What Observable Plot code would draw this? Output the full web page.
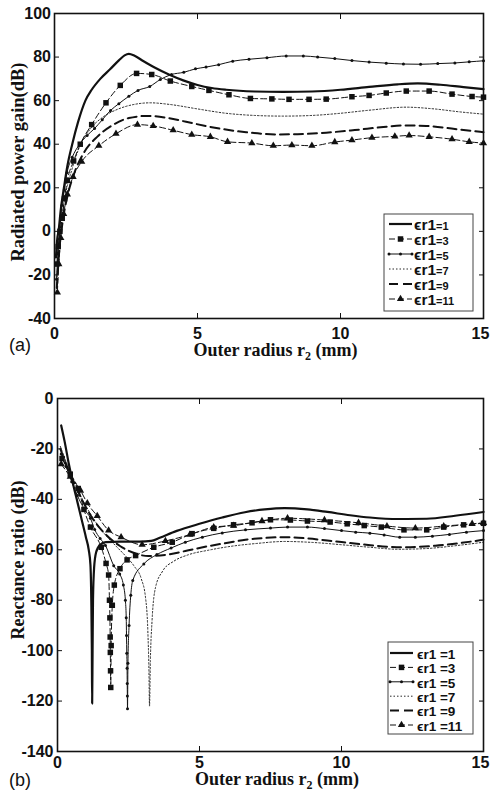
<!DOCTYPE html>
<html>
<head>
<meta charset="utf-8">
<script src="https://cdn.jsdelivr.net/npm/d3@7"></script>
<script src="https://cdn.jsdelivr.net/npm/@observablehq/plot@0.6"></script>
<style>
  body { margin: 0; background: #fff; }
  #wrap { width: 490px; }
  #wrap svg { display: block; }
</style>
</head>
<body>
<div id="wrap"></div>
<script>
// ---- data ---------------------------------------------------------------
const epsLabels = ["1", "3", "5", "7", "9", "11"];
const radiusTicks = [0, 5, 10, 15];
const gainTicks = [-40, -20, 0, 20, 40, 60, 80, 100];
const ratioTicks = [0, -20, -40, -60, -80, -100, -120, -140];

// (a) radiated power gain (dB) against outer radius r2 (mm)
const gainEr1 = [[0.05,-12],[0.1,-3],[0.14,0],[0.22,10],[0.33,20],[0.45,30],[0.62,40],[0.82,50],[1.08,60],[1.3,65],[1.6,70],[1.95,74.5],[2.25,78.5],[2.45,80.8],[2.6,81.5],[2.8,80.6],[3.1,78.2],[3.5,75.2],[4.0,72],[4.5,69.3],[5.0,67.2],[5.5,65.8],[6.0,65],[7.0,64.2],[8.0,64],[9.0,64.2],[10.0,65],[11.0,66.3],[12.0,67.5],[12.7,67.9],[13.5,67.3],[14.3,66.2],[15.0,65.3]];
const gainEr3 = [[0.08,-15],[0.13,-7],[0.19,0],[0.27,6],[0.35,15],[0.45,23.4],[0.67,32.3],[0.9,40],[1.3,49],[1.8,59],[2.3,67],[2.87,72.5],[3.4,72],[4.05,69],[4.8,66.5],[5.4,64.7],[6.1,62.7],[6.85,61],[7.6,60.8],[8.2,60.6],[8.9,60.6],[9.5,60.7],[10.4,61.8],[11.0,62.4],[11.6,63.5],[12.3,64.4],[13.1,64.4],[13.9,63],[14.6,61.9],[15.0,61.6]];
const gainEr5 = [[0.07,-22],[0.12,-10],[0.18,0],[0.26,12],[0.34,19],[0.44,27],[0.62,34],[0.88,40],[1.14,44],[1.4,47.2],[1.67,51.2],[1.96,55.5],[2.25,58.6],[2.6,62],[2.92,64.7],[3.33,66.5],[3.7,69.7],[4.09,72],[4.52,73],[4.93,74.6],[5.3,75.4],[5.74,76.5],[6.23,78.1],[6.8,79],[7.43,79.7],[8.1,80.5],[8.7,80.5],[9.2,80],[9.8,79.3],[10.4,78.4],[11.0,77.7],[11.6,77.2],[12.2,76.8],[12.8,76.7],[13.4,77],[14.0,77.3],[14.5,77.8],[15.0,78.3]];
const gainEr7 = [[0.08,-24],[0.15,-8],[0.25,6],[0.4,18],[0.6,28],[0.85,38],[1.25,47],[1.7,52.5],[2.2,56],[2.8,58.3],[3.35,59],[4.0,58.3],[5.0,56.2],[6.0,54.2],[7.0,53.2],[8.0,52.9],[9.0,53.2],[10.0,54.2],[11.0,55.6],[12.3,57],[13.2,56.3],[14.2,54.8],[15.0,53.8]];
const gainEr9 = [[0.08,-26],[0.16,-10],[0.28,4],[0.45,16],[0.7,27],[1.0,35.5],[1.5,43.5],[2.0,48.5],[2.6,52],[3.25,53],[3.9,52.2],[4.6,50.3],[5.5,47.8],[6.7,45.5],[7.8,44.5],[8.5,44.6],[9.5,45.3],[10.5,46.5],[11.5,47.9],[12.2,48.6],[13.0,48.4],[14.0,47],[15.0,45.5]];
const gainEr11 = [[0.1,-28],[0.15,-15],[0.22,-3],[0.32,8],[0.45,17],[0.65,25],[0.95,32],[1.55,39.3],[2.15,44.8],[2.9,49],[3.45,48.4],[4.15,46.4],[4.8,44.4],[5.45,43.4],[6.05,41.1],[6.9,40.5],[7.65,39.3],[8.3,39.6],[9.0,39.3],[9.8,41],[10.4,41.9],[11.1,43],[11.9,43.6],[12.4,44],[13.1,43.4],[13.9,42.3],[14.5,41.1],[15.0,40.5]];

// (b) reactance ratio (dB) against outer radius r2 (mm)
const ratioEr1 = [[0.13,-10.7],[0.25,-17],[0.4,-26],[0.55,-34],[0.7,-41],[0.85,-48],[1.0,-55],[1.1,-60],[1.16,-66],[1.19,-80],[1.21,-100],[1.22,-121],[1.235,-100],[1.25,-80],[1.29,-67],[1.36,-61],[1.5,-58],[1.7,-57],[2.2,-56.8],[2.9,-56.8],[3.3,-56.5],[3.6,-55.2],[4.2,-52.5],[5.0,-49.7],[5.8,-47.2],[6.6,-45.1],[7.3,-44],[8.0,-43.5],[8.8,-44],[9.5,-45],[10.3,-46.3],[11.0,-47.2],[12.0,-47.8],[13.0,-47.7],[14.0,-46.5],[15.0,-45]];
const ratioEr3 = [[0.16,-23.8],[0.45,-30],[0.73,-35.7],[0.93,-44],[1.16,-51],[1.54,-59],[1.71,-65.4],[1.8,-70],[1.83,-80],[1.845,-87],[1.855,-94.6],[1.86,-100.7],[1.868,-108],[1.875,-114.6],[1.89,-98],[1.93,-82],[2.0,-74],[2.2,-67.5],[2.45,-64],[2.75,-62.3],[3.39,-59],[4.04,-57],[4.74,-53.6],[5.5,-51.5],[6.2,-50.1],[6.85,-49.3],[7.5,-48.1],[8.2,-48.2],[8.8,-48.6],[9.6,-49],[10.2,-49.7],[10.8,-50.4],[11.4,-51],[12.2,-52.1],[13.0,-52.1],[13.6,-51],[14.3,-50.1],[15.0,-49.5]];
const ratioEr5 = [[0.13,-22],[0.3,-27],[0.5,-33],[0.7,-38.5],[0.95,-44],[1.16,-47.5],[1.31,-52],[1.5,-55.5],[1.69,-58.3],[1.98,-66.3],[2.19,-69.6],[2.32,-74],[2.39,-80],[2.42,-87],[2.43,-94],[2.44,-101],[2.45,-107],[2.455,-113],[2.46,-118],[2.465,-123],[2.48,-105],[2.52,-90],[2.58,-78],[2.65,-72.2],[3.04,-65.6],[3.5,-61.9],[4.0,-59.3],[4.5,-57],[5.1,-55],[5.8,-53.3],[6.62,-52.1],[7.5,-51.4],[8.1,-51],[8.8,-51],[9.4,-51.6],[10.0,-52.4],[10.5,-53],[11.0,-53.4],[11.5,-54.1],[12.05,-55],[12.6,-55],[13.2,-54.6],[13.8,-53.9],[14.4,-53],[15.0,-52.4]];
const ratioEr7 = [[0.1,-19],[0.3,-25],[0.6,-33],[0.9,-40.5],[1.2,-46.5],[1.5,-51.5],[1.8,-55.5],[2.1,-59],[2.4,-62.5],[2.7,-66.5],[2.95,-71.5],[3.1,-79],[3.18,-92],[3.22,-108],[3.24,-122],[3.27,-104],[3.33,-88],[3.45,-75],[3.7,-68.5],[4.1,-64.5],[4.6,-62],[5.3,-60.2],[6.0,-58.8],[7.0,-57.5],[8.0,-56.7],[9.0,-57.1],[10.0,-58],[11.0,-59],[12.0,-59.8],[13.0,-59.5],[14.0,-58.4],[15.0,-57]];
const ratioEr9 = [[0.1,-20],[0.3,-26],[0.6,-34],[0.9,-41],[1.2,-47],[1.5,-51.5],[1.8,-55],[2.2,-58.5],[2.7,-61.3],[3.2,-62.5],[3.8,-62],[4.5,-60.5],[5.2,-58.8],[6.0,-57.2],[6.62,-56],[7.3,-55.3],[8.0,-55],[8.8,-55.5],[9.5,-56.3],[10.7,-57.8],[12.1,-59],[13.3,-58.4],[14.2,-57.3],[15.0,-56]];
const ratioEr11 = [[0.13,-26],[0.45,-31],[0.81,-36.5],[1.05,-41.5],[1.4,-46.6],[1.8,-52.3],[2.24,-55],[2.98,-58],[3.8,-56.5],[4.66,-54],[5.5,-51],[6.2,-50.4],[7.2,-48.6],[8.1,-47.5],[9.4,-48.2],[10.6,-49.3],[11.6,-50.6],[12.6,-51.4],[13.6,-50.6],[14.6,-49.7],[15.0,-49.3]];

// ---- drawing ------------------------------------------------------------
const INK = "#111";
const SANS = "'Liberation Sans', Arial, Helvetica, sans-serif";
const SERIF = "'Liberation Serif', 'Times New Roman', serif";

// line and marker style for each permittivity curve
const styles = [
  { width: 2.2, dash: null,    marker: null },
  { width: 1,   dash: "6,3",   marker: "square" },
  { width: 1,   dash: null,    marker: "dot" },
  { width: 0.9, dash: "1.5,2", marker: null },
  { width: 2,   dash: "9,5",   marker: null },
  { width: 1,   dash: "6,3",   marker: "triangle" }
];
const markerSize = { square: 3.1, dot: 1.5, triangle: 2.7 };

function seriesMarks(series) {
  const marks = [];
  series.forEach((pts, i) => {
    const st = styles[i];
    const rows = pts.map(([x, y]) => ({ x, y }));
    marks.push(Plot.line(rows, {
      x: "x", y: "y", stroke: INK, strokeWidth: st.width,
      strokeDasharray: st.dash, curve: "monotone-x"
    }));
    if (st.marker) {
      marks.push(Plot.dot(rows, {
        x: "x", y: "y", fill: INK, stroke: null,
        symbol: st.marker === "dot" ? "circle" : st.marker,
        r: markerSize[st.marker]
      }));
    }
  });
  return marks;
}

function panel(cfg) {
  const lastTick = radiusTicks[radiusTicks.length - 1];
  const fmt = d => String(d);
  const chart = Plot.plot({
    width: 490, height: cfg.height,
    marginTop: cfg.mt, marginBottom: cfg.mb, marginLeft: cfg.ml, marginRight: 7,
    x: { domain: [0, 15] },
    y: { domain: cfg.yDomain },
    style: { fontFamily: SANS, fontSize: "16px", fontWeight: "bold", color: INK, background: "#fff", overflow: "visible" },
    marks: [
      // inward ticks on all four sides
      Plot.axisX(radiusTicks, { anchor: "bottom", tickSize: -5, fill: "none", label: null }),
      Plot.axisX(radiusTicks, { anchor: "top", tickSize: -5, fill: "none", label: null }),
      Plot.axisY(cfg.yTicks, { anchor: "left", tickSize: -5, fill: "none", label: null }),
      Plot.axisY(cfg.yTicks, { anchor: "right", tickSize: -5, fill: "none", label: null }),
      // tick labels; the last x label sits against the page edge, so it is nudged inward
      Plot.axisX(radiusTicks.slice(0, -1), { anchor: "bottom", tickSize: 0, tickPadding: cfg.xPad, label: null, tickFormat: fmt }),
      Plot.axisX([lastTick], { anchor: "bottom", tickSize: 0, tickPadding: cfg.xPad, label: null, dx: -3, tickFormat: fmt }),
      Plot.axisY(cfg.yTicks, { anchor: "left", tickSize: 0, tickPadding: cfg.yPad, label: null, tickFormat: fmt }),
      ...seriesMarks(cfg.series),
      Plot.frame({ stroke: INK, strokeWidth: 1.6 }),
      Plot.text([cfg.yTitle], {
        frameAnchor: "left", textAnchor: "middle", rotate: -90,
        dx: 18 - cfg.ml, dy: cfg.yTitleDy,
        fontFamily: SERIF, fontSize: cfg.yTitleSize, fontWeight: "bold", fill: INK
      })
    ]
  });

  const svg = d3.select(chart);
  const cx = (cfg.ml + 490 - 7) / 2 + 7;

  // x-axis title with subscripted r2
  const t = svg.append("text")
    .attr("x", cx).attr("y", cfg.xTitleY)
    .attr("text-anchor", "middle")
    .attr("font-family", SERIF).attr("font-weight", "bold")
    .attr("font-size", 18).attr("fill", INK);
  t.append("tspan").text("Outer radius r");
  t.append("tspan").attr("font-size", 12).attr("dy", 4).text("2");
  t.append("tspan").attr("dy", -4).text(" (mm)");

  // panel tag
  svg.append("text")
    .attr("x", 9).attr("y", cfg.tagY)
    .attr("text-anchor", "start")
    .attr("font-family", SANS).attr("font-weight", "normal")
    .attr("font-size", 18).attr("fill", INK)
    .text(cfg.tag);

  // legend
  const L = cfg.legend;
  const g = svg.append("g").attr("text-anchor", "start");
  g.append("rect")
    .attr("x", L.x0).attr("y", L.y0)
    .attr("width", L.x1 - L.x0).attr("height", L.y1 - L.y0)
    .attr("fill", "#fff").attr("stroke", "#444").attr("stroke-width", 1);
  epsLabels.forEach((lab, i) => {
    const st = styles[i];
    const y = L.rowY + i * L.rowGap;
    g.append("line")
      .attr("x1", L.sx0).attr("x2", L.sx1).attr("y1", y).attr("y2", y)
      .attr("stroke", INK).attr("stroke-width", st.width)
      .attr("stroke-dasharray", st.dash);
    if (st.marker) {
      const spots = st.marker === "dot" ? [L.sx0, (L.sx0 + L.sx1) / 2, L.sx1] : [(L.sx0 + L.sx1) / 2];
      const r = markerSize[st.marker];
      const sym = st.marker === "square" ? d3.symbolSquare : st.marker === "triangle" ? d3.symbolTriangle : d3.symbolCircle;
      spots.forEach(sx => {
        g.append("path")
          .attr("d", d3.symbol(sym, Math.PI * r * r)())
          .attr("transform", `translate(${sx},${y})`)
          .attr("fill", INK);
      });
    }
    const tx = g.append("text")
      .attr("x", L.tx).attr("y", y).attr("dy", "0.36em")
      .attr("text-anchor", "start")
      .attr("font-family", SANS).attr("font-weight", "bold").attr("fill", INK);
    tx.append("tspan").attr("font-size", L.big).text("\u03F5r1");
    tx.append("tspan").attr("font-size", L.small).text(L.sep + "=" + lab);
  });

  return chart;
}

const wrap = document.getElementById("wrap");

wrap.appendChild(panel({
  height: 365, mt: 13, mb: 47, ml: 54,
  yDomain: [-40, 100], yTicks: gainTicks,
  xPad: 9, yPad: 3.5,
  series: [gainEr1, gainEr3, gainEr5, gainEr7, gainEr9, gainEr11],
  yTitle: "Radiated power gain(dB)", yTitleDy: -4, yTitleSize: 18.5,
  xTitleY: 356, tag: "(a)", tagY: 351,
  legend: { x0: 384, x1: 473, y0: 214, y1: 311, rowY: 224, rowGap: 15,
            sx0: 389, sx1: 412, tx: 414, big: 15.5, small: 11, sep: "" }
}));

wrap.appendChild(panel({
  height: 430, mt: 33, mb: 44, ml: 57,
  yDomain: [-140, 0], yTicks: ratioTicks,
  xPad: 5, yPad: 4,
  series: [ratioEr1, ratioEr3, ratioEr5, ratioEr7, ratioEr9, ratioEr11],
  yTitle: "Reactance ratio (dB)", yTitleDy: -15, yTitleSize: 18,
  xTitleY: 420, tag: "(b)", tagY: 421,
  legend: { x0: 388, x1: 473, y0: 277, y1: 369, rowY: 288, rowGap: 14.4,
            sx0: 390, sx1: 413, tx: 417, big: 13.5, small: 13.5, sep: " " }
}));
</script>
</body>
</html>
